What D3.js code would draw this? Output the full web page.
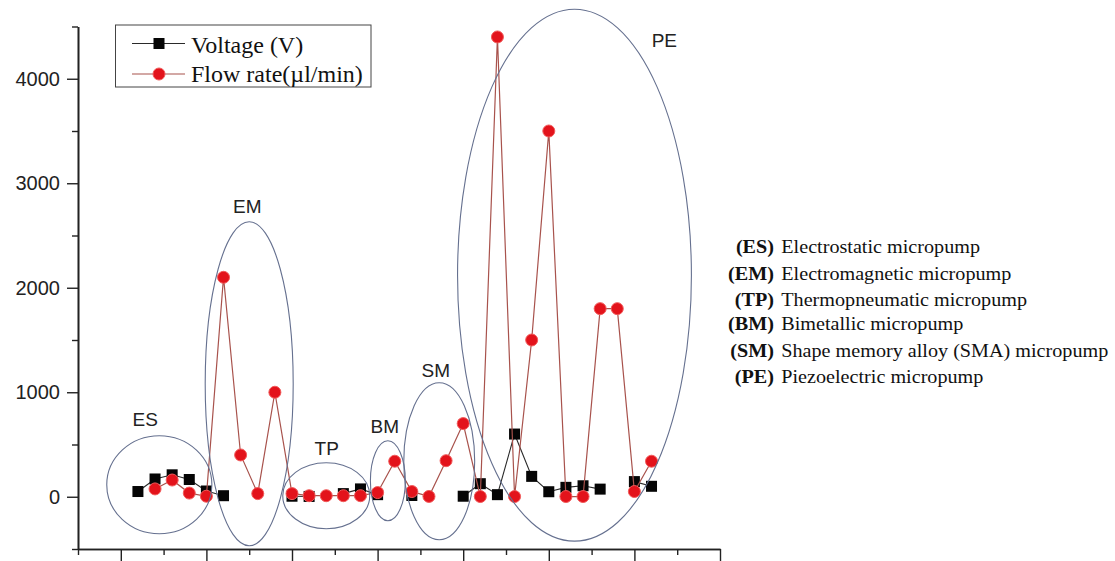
<!DOCTYPE html>
<html>
<head>
<meta charset="utf-8">
<script src="https://cdn.jsdelivr.net/npm/d3@7"></script>
<style>
  body { margin: 0; background: #fff; }
  svg { display: block; }
</style>
</head>
<body>
<svg id="chart"></svg>
<script>
// sample index along the x axis
const samples = d3.range(1, 32);

// voltage (V), null where no value was reported
const voltage = [50, 170, 210, 165, 55, 10, null, null, null, 5, 3, null, 30, 75, 20,
  null, 12, null, null, 5, 125, 20, 600, 195, 48, 90, 105, 73, null, 145, 100];

// flow rate (ul/min)
const flowRate = [null, 75, 160, 35, 5, 2100, 400, 30, 1000, 30, 10, 10, 10, 10, 40,
  340, 50, 3, 345, 700, 2, 4400, 2, 1500, 3500, 2, 2, 1800, 1800, 50, 340];

const yMajorTicks = [0, 1000, 2000, 3000, 4000];
const yMinorTicks = [-500, 500, 1500, 2500, 3500, 4500];
const xMajorTicks = [0, 5, 10, 15, 20, 25, 30, 35];
const xMinorTicks = [-2.5, 2.5, 7.5, 12.5, 17.5, 22.5, 27.5, 32.5];

const seriesNames = ['Voltage (V)', 'Flow rate(\u00b5l/min)'];

// pump families, circled on the chart (data units)
const groupCodes = ['ES', 'EM', 'TP', 'BM', 'SM', 'PE'];
const groupNames = ['Electrostatic micropump', 'Electromagnetic micropump',
  'Thermopneumatic micropump', 'Bimetallic micropump',
  'Shape memory alloy (SMA) micropump', 'Piezoelectric micropump'];
const groupShapes = [
  {cx: 2.25, cy: 115, rx: 3.07, ry: 469, lx: 1.43, ly: 679},
  {cx: 7.5, cy: 1081, rx: 2.57, ry: 1550, lx: 7.39, ly: 2718},
  {cx: 12.0, cy: 10, rx: 2.54, ry: 316, lx: 12.03, ly: 402},
  {cx: 15.6, cy: 153, rx: 1.02, ry: 383, lx: 15.42, ly: 612},
  {cx: 18.6, cy: 340, rx: 2.07, ry: 751, lx: 18.4, ly: 1148},
  {cx: 26.5, cy: 2120, rx: 6.83, ry: 2545, lx: 31.75, ly: 4301},
];

const width = 1115;
const height = 561;

const svg = d3.select('#chart')
    .attr('width', width)
    .attr('height', height);

const x = d3.scaleLinear().domain([-2.5, 35]).range([78, 720]);
const y = d3.scaleLinear().domain([-500, 4500]).range([549, 26.5]);

const axisColor = '#222';
const sansFont = '"Liberation Sans", Arial, sans-serif';
const serifFont = '"Liberation Serif", "Times New Roman", serif';

// y axis: major ticks with labels, minor ticks without
const yAxis = svg.append('g')
    .attr('transform', `translate(${x(-2.5)},0)`)
    .call(d3.axisLeft(y).tickValues(yMajorTicks).tickFormat(d3.format('d'))
        .tickSize(11).tickSizeOuter(0).tickPadding(7));
svg.append('g')
    .attr('transform', `translate(${x(-2.5)},0)`)
    .call(d3.axisLeft(y).tickValues(yMinorTicks).tickSize(6).tickSizeOuter(0)
        .tickFormat(''));

// x axis: no labels
svg.append('g')
    .attr('transform', `translate(0,${y(-500)})`)
    .call(d3.axisBottom(x).tickValues(xMajorTicks).tickSize(12).tickSizeOuter(0)
        .tickFormat(''));
svg.append('g')
    .attr('transform', `translate(0,${y(-500)})`)
    .call(d3.axisBottom(x).tickValues(xMinorTicks).tickSize(6).tickSizeOuter(0)
        .tickFormat(''));

svg.selectAll('.domain')
    .attr('stroke', axisColor)
    .attr('stroke-width', 1.6);
svg.selectAll('.tick line')
    .attr('stroke', axisColor)
    .attr('stroke-width', 1.4);
yAxis.selectAll('.tick text')
    .attr('font-family', sansFont)
    .attr('font-size', 20)
    .attr('fill', '#222');

// series
const voltagePts = samples.map((s, i) => ({x: s, v: voltage[i]}));
const flowPts = samples.map((s, i) => ({x: s, v: flowRate[i]}));

const line = d3.line()
    .defined((d) => d.v !== null)
    .x((d) => x(d.x))
    .y((d) => y(d.v));

svg.append('path')
    .datum(voltagePts)
    .attr('fill', 'none')
    .attr('stroke', '#2a2a2a')
    .attr('stroke-width', 1.1)
    .attr('d', line);

svg.selectAll('.volt')
    .data(voltagePts.filter((d) => d.v !== null))
    .enter().append('rect')
    .attr('class', 'volt')
    .attr('x', (d) => x(d.x) - 5.5)
    .attr('y', (d) => y(d.v) - 5.5)
    .attr('width', 11)
    .attr('height', 11)
    .attr('fill', '#050505');

svg.append('path')
    .datum(flowPts)
    .attr('fill', 'none')
    .attr('stroke', '#a8524c')
    .attr('stroke-width', 1.2)
    .attr('d', line);

svg.selectAll('.flow')
    .data(flowPts.filter((d) => d.v !== null))
    .enter().append('circle')
    .attr('class', 'flow')
    .attr('cx', (d) => x(d.x))
    .attr('cy', (d) => y(d.v))
    .attr('r', 6)
    .attr('fill', '#e3131b')
    .attr('stroke', '#f25a5a')
    .attr('stroke-width', 1);

// group ellipses and their labels
const groups = groupCodes.map((c, i) => Object.assign({code: c}, groupShapes[i]));

svg.selectAll('.group')
    .data(groups)
    .enter().append('ellipse')
    .attr('class', 'group')
    .attr('cx', (d) => x(d.cx))
    .attr('cy', (d) => y(d.cy))
    .attr('rx', (d) => x(d.rx) - x(0))
    .attr('ry', (d) => y(0) - y(d.ry))
    .attr('fill', 'none')
    .attr('stroke', '#65708f')
    .attr('stroke-width', 1.1);

svg.selectAll('.group-label')
    .data(groups)
    .enter().append('text')
    .attr('class', 'group-label')
    .attr('x', (d) => x(d.lx))
    .attr('y', (d) => y(d.ly))
    .attr('text-anchor', 'middle')
    .attr('font-family', sansFont)
    .attr('font-size', 19)
    .attr('fill', '#222')
    .text((d) => d.code);

// legend
const legend = svg.append('g');
legend.append('rect')
    .attr('x', 115.5)
    .attr('y', 25)
    .attr('width', 255.5)
    .attr('height', 62)
    .attr('fill', '#fff')
    .attr('stroke', '#444')
    .attr('stroke-width', 1);

const legendRows = [
  {name: seriesNames[0], color: '#2a2a2a', cy: 43.5, base: 53},
  {name: seriesNames[1], color: '#a8524c', cy: 74, base: 82},
];
legendRows.forEach((row, i) => {
  legend.append('line')
      .attr('x1', 132).attr('x2', 185)
      .attr('y1', row.cy).attr('y2', row.cy)
      .attr('stroke', row.color)
      .attr('stroke-width', 1.1);
  if (i === 0) {
    legend.append('rect')
        .attr('x', 153.5).attr('y', row.cy - 5.5)
        .attr('width', 11).attr('height', 11)
        .attr('fill', '#050505');
  } else {
    legend.append('circle')
        .attr('cx', 159).attr('cy', row.cy)
        .attr('r', 6)
        .attr('fill', '#e3131b')
        .attr('stroke', '#f25a5a');
  }
  legend.append('text')
      .attr('x', 191)
      .attr('y', row.base)
      .attr('font-family', serifFont)
      .attr('font-size', 24)
      .attr('fill', '#111')
      .text(row.name);
});

// key for the abbreviations, on the right
const keyBaselines = [253, 280, 306, 330, 357, 383];
const key = svg.append('g')
    .attr('transform', 'translate(774,0) scale(1.12,1)');
groupCodes.forEach((c, i) => {
  key.append('text')
      .attr('x', 0)
      .attr('y', keyBaselines[i])
      .attr('text-anchor', 'end')
      .attr('font-family', serifFont)
      .attr('font-weight', 'bold')
      .attr('font-size', 18)
      .attr('fill', '#111')
      .text(`(${c})`);
  key.append('text')
      .attr('x', 6.5)
      .attr('y', keyBaselines[i])
      .attr('font-family', serifFont)
      .attr('font-size', 18)
      .attr('fill', '#111')
      .text(groupNames[i]);
});
</script>
</body>
</html>
